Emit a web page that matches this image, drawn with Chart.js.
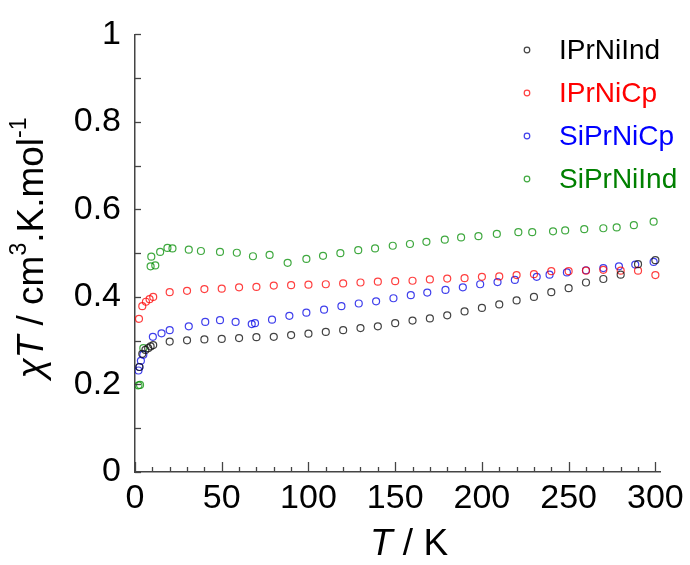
<!DOCTYPE html>
<html lang="en">
<head>
<meta charset="UTF-8">
<title>chiT vs T</title>
<script src="https://cdn.jsdelivr.net/npm/chart.js"></script>
<style>
  body { margin: 0; background: #ffffff; }
  #wrap { width: 690px; height: 565px; }
</style>
</head>
<body>
<div id="wrap"><canvas id="chiChart" width="690" height="565"></canvas></div>
<script>
// IPrNiInd (black)
const tempIPrNiInd = [2.5, 4.2, 6, 7.6, 9, 10.5, 20, 30, 40, 50, 60, 70, 80, 90, 100, 110, 120, 130, 140, 150,
  160, 170, 180, 190, 200, 210, 220, 230, 240, 250, 260, 270, 280, 290, 300];
const chiIPrNiInd = [0.240, 0.270, 0.279, 0.283, 0.287, 0.290, 0.298, 0.301, 0.303, 0.304, 0.306, 0.308, 0.309, 0.313,
  0.316, 0.320, 0.324, 0.329, 0.333, 0.340, 0.346, 0.351, 0.358, 0.367, 0.375, 0.383, 0.392, 0.400, 0.411, 0.420,
  0.433, 0.441, 0.451, 0.475, 0.484];

// IPrNiCp (red)
const tempIPrNiCp = [2.3, 4.2, 6.3, 8.4, 10.5, 20, 30, 40, 50, 60, 70, 80, 90, 100, 110, 120, 130, 140, 150, 160,
  170, 180, 190, 200, 210, 220, 230, 240, 250, 260, 270, 280, 290, 300];
const chiIPrNiCp = [0.350, 0.379, 0.389, 0.395, 0.400, 0.411, 0.414, 0.418, 0.419, 0.422, 0.423, 0.426, 0.427, 0.428,
  0.429, 0.431, 0.433, 0.435, 0.436, 0.437, 0.440, 0.442, 0.443, 0.446, 0.447, 0.450, 0.452, 0.459, 0.459, 0.460,
  0.462, 0.460, 0.460, 0.450];

// SiPrNiCp (blue)
const tempSiPrNiCp = [2, 2.6, 3.4, 4.8, 10.3, 15.3, 20, 31, 40.5, 49, 58, 67.3, 69.2, 79, 89, 98.8, 109, 119, 129,
  139, 149, 159, 168.5, 179, 189, 199, 209, 219, 231.6, 239, 249, 260, 270, 279, 288.4, 299];
const chiSiPrNiCp = [0.232, 0.240, 0.254, 0.268, 0.309, 0.317, 0.324, 0.333, 0.343, 0.347, 0.343, 0.338, 0.340, 0.348,
  0.357, 0.364, 0.371, 0.379, 0.385, 0.390, 0.397, 0.404, 0.410, 0.416, 0.422, 0.429, 0.434, 0.439, 0.446, 0.451,
  0.456, 0.461, 0.466, 0.470, 0.474, 0.480];

// SiPrNiInd (green)
const tempSiPrNiInd = [2, 2.9, 4.8, 9, 9.4, 11.7, 14.5, 18.7, 21.6, 31, 38, 49, 58.7, 68, 77.6, 88, 98.8, 108.4,
  118.4, 128.7, 138.4, 148.6, 158.5, 168, 178.6, 188, 198, 208.6, 221, 229, 241, 248, 259, 270, 277.7, 287.6, 299];
const chiSiPrNiInd = [0.198, 0.199, 0.283, 0.470, 0.492, 0.472, 0.503, 0.512, 0.511, 0.508, 0.505, 0.503, 0.501, 0.493,
  0.496, 0.478, 0.487, 0.494, 0.500, 0.507, 0.511, 0.517, 0.521, 0.526, 0.531, 0.536, 0.539, 0.544, 0.548, 0.548,
  0.550, 0.552, 0.555, 0.557, 0.559, 0.564, 0.572];

const seriesNames = ['IPrNiInd', 'IPrNiCp', 'SiPrNiCp', 'SiPrNiInd'];
const xTickValues = [0, 50, 100, 150, 200, 250, 300];
const yTickValues = [0, 0.2, 0.4, 0.6, 0.8, 1];

const pointColors = ['rgba(20,20,20,0.8)', 'rgba(255,0,0,0.75)', 'rgba(0,0,230,0.75)', 'rgba(0,140,0,0.75)'];
const textColors = ['#000000', '#ff0000', '#0000ff', '#008000'];
const FONT = '"Liberation Sans", Arial, sans-serif';

function pairs(xs, ys) {
  return xs.map((x, i) => ({ x: x, y: ys[i] }));
}

const allData = [
  pairs(tempIPrNiInd, chiIPrNiInd),
  pairs(tempIPrNiCp, chiIPrNiCp),
  pairs(tempSiPrNiCp, chiSiPrNiCp),
  pairs(tempSiPrNiInd, chiSiPrNiInd)
];

const datasets = seriesNames.map((name, i) => ({
  label: name,
  data: allData[i],
  showLine: false,
  pointStyle: 'circle',
  pointRadius: 3.5,
  pointBorderWidth: 1.2,
  pointBorderColor: pointColors[i],
  pointBackgroundColor: 'rgba(0,0,0,0)',
  borderColor: pointColors[i],
  backgroundColor: 'rgba(0,0,0,0)'
}));

// draw text made of pieces (italic / superscript), centred on cx
function drawRich(ctx, parts, cx, cy, size) {
  const fonts = parts.map(p => (p.italic ? 'italic ' : '') + (p.sup ? Math.round(size * 0.62) : size) + 'px ' + FONT);
  let total = 0;
  const widths = parts.map((p, i) => {
    ctx.font = fonts[i];
    const w = ctx.measureText(p.t).width;
    total += w;
    return w;
  });
  let x = cx - total / 2;
  ctx.textAlign = 'left';
  ctx.textBaseline = 'middle';
  parts.forEach((p, i) => {
    ctx.font = fonts[i];
    ctx.fillText(p.t, x, p.sup ? cy - size * 0.36 : cy);
    x += widths[i];
  });
}

const decorations = {
  id: 'decorations',
  afterDraw(chart) {
    const ctx = chart.ctx;
    const area = chart.chartArea;
    const xs = chart.scales.x;
    const ys = chart.scales.y;
    ctx.save();

    // inward ticks
    ctx.strokeStyle = '#444';
    ctx.lineWidth = 1.3;
    for (let t = 0; t <= 300; t += 10) {
      const px = Math.round(xs.getPixelForValue(t)) + 0.5;
      const len = t % 50 === 0 ? 10 : 5;
      ctx.beginPath();
      ctx.moveTo(px, area.bottom);
      ctx.lineTo(px, area.bottom - len);
      ctx.stroke();
    }
    for (let k = 0; k <= 10; k++) {
      const py = Math.round(ys.getPixelForValue(k / 10)) + 0.5;
      ctx.beginPath();
      ctx.moveTo(area.left, py);
      ctx.lineTo(area.left + 6, py);
      ctx.stroke();
    }

    // legend
    chart.data.datasets.forEach((ds, i) => {
      const ly = 50 + i * 43;
      ctx.beginPath();
      ctx.strokeStyle = pointColors[i];
      ctx.lineWidth = 1.2;
      ctx.arc(527, ly, 2.8, 0, Math.PI * 2);
      ctx.stroke();
      ctx.fillStyle = textColors[i];
      ctx.font = '28px ' + FONT;
      ctx.textAlign = 'left';
      ctx.textBaseline = 'middle';
      ctx.fillText(ds.label, 559, ly + 1);
    });

    // axis titles
    ctx.fillStyle = '#000';
    drawRich(ctx, [
      { t: 'T', italic: true },
      { t: ' / K' }
    ], 409, 545, 37);

    ctx.translate(33, 248);
    ctx.rotate(-Math.PI / 2);
    drawRich(ctx, [
      { t: 'χT', italic: true },
      { t: ' / cm' },
      { t: '3', sup: true },
      { t: '.K.mol' },
      { t: '-1', sup: true }
    ], 0, 0, 37);
    ctx.restore();
  }
};

new Chart(document.getElementById('chiChart'), {
  type: 'scatter',
  data: { datasets: datasets },
  options: {
    responsive: false,
    devicePixelRatio: 1,
    animation: false,
    layout: { padding: { top: 30, right: 27, left: 0, bottom: 0 } },
    plugins: {
      legend: { display: false },
      tooltip: { enabled: false }
    },
    scales: {
      x: {
        type: 'linear',
        min: 0,
        max: 303,
        afterFit(scale) { scale.height = 93; },
        afterBuildTicks(scale) { scale.ticks = xTickValues.map(v => ({ value: v })); },
        ticks: {
          color: '#000',
          padding: 6,
          maxRotation: 0,
          font: { family: FONT, size: 34 },
          callback: v => String(v)
        },
        grid: { display: false, drawTicks: false },
        border: { display: true, color: '#444', width: 1.5 }
      },
      y: {
        type: 'linear',
        min: 0,
        max: 1,
        afterFit(scale) { scale.width = 135; },
        afterBuildTicks(scale) { scale.ticks = yTickValues.map(v => ({ value: v })); },
        ticks: {
          color: '#000',
          padding: 14,
          font: { family: FONT, size: 34 },
          callback: v => String(+Number(v).toFixed(1))
        },
        grid: { display: false, drawTicks: false },
        border: { display: true, color: '#444', width: 1.5 }
      }
    }
  },
  plugins: [decorations]
});
</script>
</body>
</html>
